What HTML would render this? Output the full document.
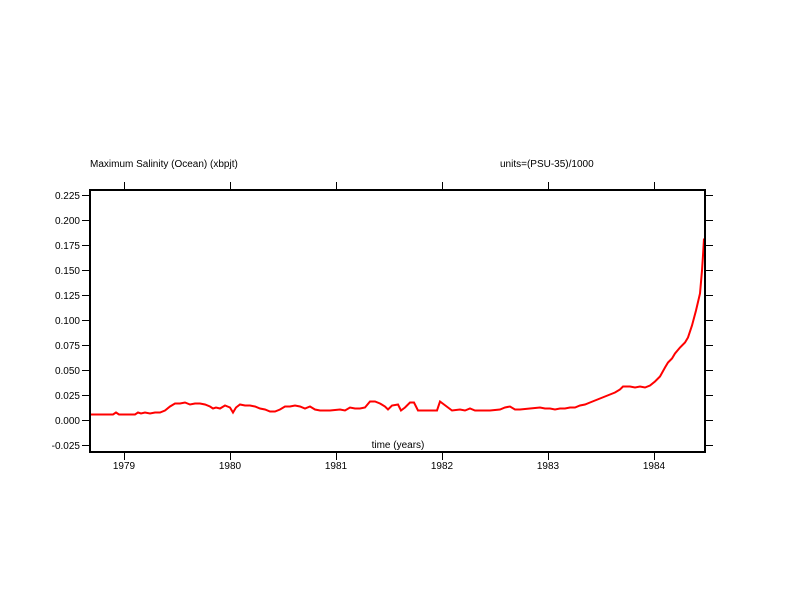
<!DOCTYPE html>
<html><head><style>body{margin:0;background:#fff}svg{display:block}text{font-family:"Liberation Sans",sans-serif;font-size:10px;fill:#000}</style></head>
<body>
<svg width="792" height="612" viewBox="0 0 792 612">
<rect x="0" y="0" width="792" height="612" fill="#fff"/>
<text x="90" y="167">Maximum Salinity (Ocean) (xbpjt)</text>
<text x="500" y="167">units=(PSU-35)/1000</text>
<g stroke="#000" stroke-width="1">
<line x1="124.5" y1="182" x2="124.5" y2="190"/><line x1="230.5" y1="182" x2="230.5" y2="190"/><line x1="336.5" y1="182" x2="336.5" y2="190"/><line x1="442.5" y1="182" x2="442.5" y2="190"/><line x1="548.5" y1="182" x2="548.5" y2="190"/><line x1="654.5" y1="182" x2="654.5" y2="190"/>
<line x1="124.5" y1="452" x2="124.5" y2="460"/><line x1="230.5" y1="452" x2="230.5" y2="460"/><line x1="336.5" y1="452" x2="336.5" y2="460"/><line x1="442.5" y1="452" x2="442.5" y2="460"/><line x1="548.5" y1="452" x2="548.5" y2="460"/><line x1="654.5" y1="452" x2="654.5" y2="460"/>
</g>
<g stroke="#000" stroke-width="1" id="yt">
<path d="M82 195.5H90M82 220.5H90M82 245.5H90M82 270.5H90M82 295.5H90M82 320.5H90M82 345.5H90M82 370.5H90M82 395.5H90M82 420.5H90M82 445.5H90"/>
<path d="M705 195.5H713M705 220.5H713M705 245.5H713M705 270.5H713M705 295.5H713M705 320.5H713M705 345.5H713M705 370.5H713M705 395.5H713M705 420.5H713M705 445.5H713"/>
</g>
<g text-anchor="end">
<text x="80" y="199">0.225</text><text x="80" y="224">0.200</text><text x="80" y="249">0.175</text><text x="80" y="274">0.150</text><text x="80" y="299">0.125</text><text x="80" y="324">0.100</text><text x="80" y="349">0.075</text><text x="80" y="374">0.050</text><text x="80" y="399">0.025</text><text x="80" y="424">0.000</text><text x="80" y="449">-0.025</text>
</g>
<g text-anchor="middle">
<text x="124" y="469">1979</text><text x="230" y="469">1980</text><text x="336" y="469">1981</text><text x="442" y="469">1982</text><text x="548" y="469">1983</text><text x="654" y="469">1984</text>
<text x="398" y="448">time (years)</text>
</g>
<g transform="translate(0,420.5) scale(1,-1)">
<polyline fill="none" stroke="#f00" stroke-width="2" points="90,6 113,6 116,8 119,6 135,6 138,8 141,7 145,8 150,7 155,8 160,8 165,10 170,14 175,17 180,17 185,18 190,16 195,17 200,17 205,16 210,14 213,12 216,13 220,12 225,15 230,13 233,8 236,13 240,16 245,15 250,15 255,14 260,12 265,11 270,9 275,9 280,11 285,14 290,14 295,15 300,14 305,12 310,14 315,11 320,10 330,10 340,11 345,10 350,13 355,12 360,12 365,13 370,19 375,19 380,17 385,14 388,11 392,15 398,16 401,10 405,13 410,18 414,18 418,10 430,10 437,10 440,19 444,16 448,13 452,10 460,11 465,10 470,12 475,10 490,10 500,11 505,13 510,14 515,11 520,11 530,12 540,13 545,12 550,12 555,11 560,12 565,12 570,13 575,13 580,15 585,16 590,18 595,20 600,22 605,24 610,26 615,28 620,31 623,34 630,34 635,33 640,34 645,33 650,35 655,39 660,44 665,53 668,58 672,62 675,67 680,73 685,78 688,83 692,95 696,110 700,127 702,150 703,165 704,182"/>
</g>
<rect x="90" y="190" width="615" height="262" fill="none" stroke="#000" stroke-width="2"/>
</svg>
</body></html>
